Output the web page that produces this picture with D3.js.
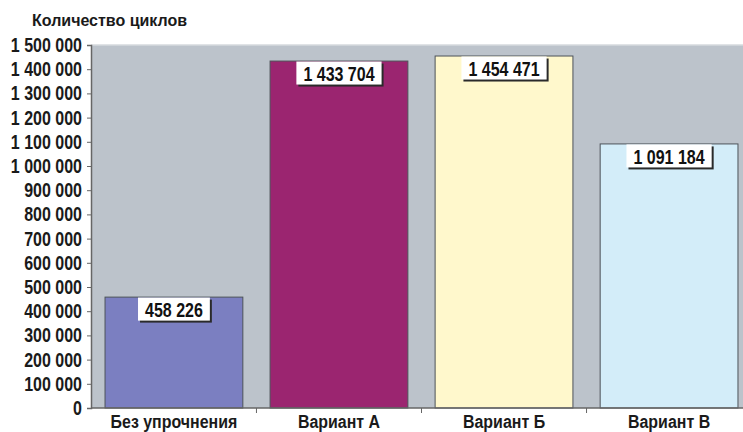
<!DOCTYPE html>
<html>
<head>
<meta charset="utf-8">
<script src="https://cdn.jsdelivr.net/npm/d3@7"></script>
<style>
  body { margin: 0; background: #fff; }
  svg { display: block; font-family: "Liberation Sans", Arial, sans-serif; font-weight: bold; }
</style>
</head>
<body>
<svg id="chart" width="743" height="432"></svg>
<script>
// данные
var categories = ['Без упрочнения', 'Вариант А', 'Вариант Б', 'Вариант В'];
var cycles = [458226, 1433704, 1454471, 1091184];
var yTicks = [0, 100000, 200000, 300000, 400000, 500000, 600000, 700000,
              800000, 900000, 1000000, 1100000, 1200000, 1300000, 1400000, 1500000];
var barColors = ['#7b7fc1', '#9b2570', '#fff8cc', '#d3edf9'];
var yTitle = 'Количество циклов';

var svg = d3.select('#chart');
var margin = {top: 45, left: 91, bottom: 24},
    plotRight = 752,
    height = 432 - margin.top - margin.bottom,
    sx = 0.8; // узкий шрифт: сжимаем по горизонтали

// пробелы как разделители тысяч
var fmt = function(v) { return d3.format(',')(v).replace(/,/g, ' '); };

var x = d3.scaleBand()
  .domain(categories)
  .range([margin.left, plotRight])
  .paddingInner(0.165)
  .paddingOuter(0.085);

var y = d3.scaleLinear()
  .domain([0, 1500000])
  .range([margin.top + height, margin.top]);

// фон области построения
svg.append('rect')
  .attr('x', margin.left)
  .attr('y', y(1500000))
  .attr('width', plotRight - margin.left)
  .attr('height', y(0) - y(1500000))
  .attr('fill', '#bcc3cb');
svg.append('line')
  .attr('x1', margin.left).attr('x2', plotRight)
  .attr('y1', y(1500000)).attr('y2', y(1500000))
  .attr('stroke', '#d6dade').attr('stroke-width', 1.5);

// столбцы
svg.append('g').selectAll('rect')
  .data(cycles)
  .enter().append('rect')
  .attr('x', function(d, i) { return x(categories[i]); })
  .attr('y', function(d) { return y(d); })
  .attr('width', x.bandwidth())
  .attr('height', function(d) { return y(0) - y(d); })
  .attr('fill', function(d, i) { return barColors[i]; })
  .attr('stroke', '#4d5359')
  .attr('stroke-width', 1);

// ось Y
var yAxis = svg.append('g')
  .attr('transform', 'translate(' + margin.left + ',0)')
  .call(d3.axisLeft(y).tickValues(yTicks).tickFormat(fmt).tickSize(4).tickPadding(5));
yAxis.select('.domain').attr('stroke', '#666').attr('stroke-width', 1.5);
yAxis.selectAll('.tick line').attr('stroke', '#666');
yAxis.selectAll('text')
  .attr('fill', '#1a1a1a')
  .attr('x', -9 / sx)
  .attr('transform', 'scale(' + sx + ',1)')
  .style('font-size', '20px')
  .style('font-family', null);

// ось X
var xAxis = svg.append('g')
  .attr('transform', 'translate(0,' + y(0) + ')');
xAxis.append('line')
  .attr('x1', margin.left).attr('x2', plotRight)
  .attr('stroke', '#666').attr('stroke-width', 1.5);
xAxis.selectAll('.sep')
  .data(categories.slice(1))
  .enter().append('line')
  .attr('class', 'sep')
  .attr('x1', function(d) { return x(d) - x.step() * x.paddingInner() / 2; })
  .attr('x2', function(d) { return x(d) - x.step() * x.paddingInner() / 2; })
  .attr('y1', 0).attr('y2', 5)
  .attr('stroke', '#666');
xAxis.selectAll('.cat')
  .data(categories)
  .enter().append('text')
  .attr('class', 'cat')
  .attr('transform', function(d) {
    return 'translate(' + (x(d) + x.bandwidth() / 2) + ',19.5) scale(' + (sx * 1.05) + ',1)';
  })
  .attr('text-anchor', 'middle')
  .attr('fill', '#1a1a1a')
  .style('font-size', '19px')
  .text(function(d) { return d; });

// подписи значений
var labels = svg.append('g').selectAll('g')
  .data(cycles)
  .enter().append('g')
  .attr('transform', function(d, i) {
    return 'translate(' + (x(categories[i]) + x.bandwidth() / 2) + ',' + (y(d) + 0.5) + ')';
  });
labels.append('text')
  .attr('y', 19.5)
  .attr('text-anchor', 'middle')
  .attr('transform', 'scale(' + sx + ',1)')
  .attr('fill', '#111')
  .style('font-size', '20px')
  .text(fmt)
  .each(function() {
    var bb = this.getBBox(), g = d3.select(this.parentNode),
        w = bb.width * sx + 14;
    g.insert('rect', 'text')
      .attr('x', -w / 2 + 2).attr('y', 2)
      .attr('width', w).attr('height', 23)
      .attr('fill', '#2a2a2a');
    g.insert('rect', 'text')
      .attr('x', -w / 2).attr('y', 0)
      .attr('width', w).attr('height', 23)
      .attr('fill', '#fff');
  });

// заголовок оси
svg.append('text')
  .attr('x', 32)
  .attr('y', 26)
  .attr('fill', '#1a1a1a')
  .style('font-size', '16px')
  .text(yTitle);
</script>
</body>
</html>
